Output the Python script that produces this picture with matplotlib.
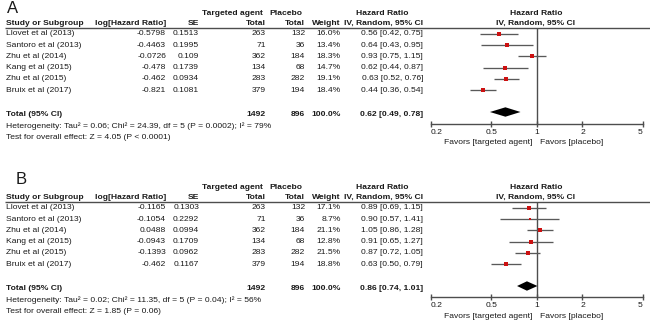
import matplotlib
matplotlib.use("Agg")
import matplotlib.pyplot as plt
from matplotlib.ticker import NullLocator, FixedLocator, FixedFormatter

plt.rcParams['font.family'] = ['Liberation Sans', 'DejaVu Sans']

# ---------------- data ----------------
studies = ["Llovet et al (2013)", "Santoro et al (2013)", "Zhu et al (2014)",
           "Kang et al (2015)", "Zhu et al (2015)", "Bruix et al (2017)"]
n_targeted = [263, 71, 362, 134, 283, 379]
n_placebo = [132, 36, 184, 68, 282, 194]
total_targeted = 1492
total_placebo = 896

# Panel A
a_loghr = ["-0.5798", "-0.4463", "-0.0726", "-0.478", "-0.462", "-0.821"]
a_se = ["0.1513", "0.1995", "0.109", "0.1739", "0.0934", "0.1081"]
a_weight = [16.0, 13.4, 18.3, 14.7, 19.1, 18.4]
a_hr = [0.56, 0.64, 0.93, 0.62, 0.63, 0.44]
a_lo = [0.42, 0.43, 0.75, 0.44, 0.52, 0.36]
a_hi = [0.75, 0.95, 1.15, 0.87, 0.76, 0.54]
a_total = (0.62, 0.49, 0.78)
a_het = "Heterogeneity: Tau² = 0.06; Chi² = 24.39, df = 5 (P = 0.0002); I² = 79%"
a_test = "Test for overall effect: Z = 4.05 (P < 0.0001)"

# Panel B
b_loghr = ["-0.1165", "-0.1054", "0.0488", "-0.0943", "-0.1393", "-0.462"]
b_se = ["0.1303", "0.2292", "0.0994", "0.1709", "0.0962", "0.1167"]
b_weight = [17.1, 8.7, 21.1, 12.8, 21.5, 18.8]
b_hr = [0.89, 0.90, 1.05, 0.91, 0.87, 0.63]
b_lo = [0.69, 0.57, 0.86, 0.65, 0.72, 0.50]
b_hi = [1.15, 1.41, 1.28, 1.27, 1.05, 0.79]
b_total = (0.86, 0.74, 1.01)
b_het = "Heterogeneity: Tau² = 0.02; Chi² = 11.35, df = 5 (P = 0.04); I² = 56%"
b_test = "Test for overall effect: Z = 1.85 (P = 0.06)"

tick_vals = [0.2, 0.5, 1, 2, 5]
tick_labels = ["0.2", "0.5", "1", "2", "5"]

# ---------------- layout ----------------
W, H = 650, 321
fig = plt.figure(figsize=(W / 100, H / 100), dpi=100)
bg = fig.add_axes([0, 0, 1, 1])
bg.set_xlim(0, W)
bg.set_ylim(H, 0)
bg.axis("off")

FS = 6.1
TXT = "#1a1a1a"
LINE = "#4d4d4d"
CI = "#595959"
RED = "#cc1111"

X_STUDY = 6.5
X_LOG = 166
X_SE = 199
X_NT = 266
X_NP = 305
X_W = 340.5
X_HR = 423
F_LEFT, F_RIGHT = 431, 642.7
ROW_STEP = 11.25


def txt(x, y, s, ha="left", bold=False, size=FS):
    bg.text(x, y, s, ha=ha, va="center", fontsize=size, color=TXT,
            fontweight="bold" if bold else "normal")


def panel(letter, letter_xy, off, loghr, se, weight, hr, lo, hi, total, het, test, axis_y):
    txt(letter_xy[0], letter_xy[1], letter, size=12)
    # headers
    y1, y2 = 13.3 + off, 23.8 + off
    txt(232.5, y1, "Targeted agent", ha="center", bold=True)
    txt(285.5, y1, "Placebo", ha="center", bold=True)
    txt(382, y1, "Hazard Ratio", ha="center", bold=True)
    txt(536, y1, "Hazard Ratio", ha="center", bold=True)
    txt(X_STUDY, y2, "Study or Subgroup", bold=True)
    txt(X_LOG, y2, "log[Hazard Ratio]", ha="right", bold=True)
    txt(X_SE, y2, "SE", ha="right", bold=True)
    txt(X_NT, y2, "Total", ha="right", bold=True)
    txt(X_NP, y2, "Total", ha="right", bold=True)
    txt(X_W, y2, "Weight", ha="right", bold=True)
    txt(X_HR, y2, "IV, Random, 95% CI", ha="right", bold=True)
    txt(536, y2, "IV, Random, 95% CI", ha="center", bold=True)
    line_y = 27.6 + off
    bg.plot([5, W], [line_y, line_y], color=LINE, lw=1.0, solid_capstyle="butt")

    rows = [33.8 + off + i * ROW_STEP for i in range(len(studies))]
    for i, y in enumerate(rows):
        txt(X_STUDY, y, studies[i])
        txt(X_LOG, y, loghr[i], ha="right")
        txt(X_SE, y, se[i], ha="right")
        txt(X_NT, y, str(n_targeted[i]), ha="right")
        txt(X_NP, y, str(n_placebo[i]), ha="right")
        txt(X_W, y, f"{weight[i]:.1f}%", ha="right")
        txt(X_HR, y, f"{hr[i]:.2f} [{lo[i]:.2f}, {hi[i]:.2f}]", ha="right")

    ty = 112.0 + off
    txt(X_STUDY, ty + 2, "Total (95% CI)", bold=True)
    txt(X_NT, ty + 2, str(total_targeted), ha="right", bold=True)
    txt(X_NP, ty + 2, str(total_placebo), ha="right", bold=True)
    txt(X_W, ty + 2, "100.0%", ha="right", bold=True)
    txt(X_HR, ty + 2, f"{total[0]:.2f} [{total[1]:.2f}, {total[2]:.2f}]", ha="right", bold=True)
    txt(X_STUDY, 126.3 + off, het)
    txt(X_STUDY, 137.2 + off, test)

    # forest axes (pixel y coordinates, log x)
    top, bot = line_y, axis_y
    ax = fig.add_axes([F_LEFT / W, 1 - bot / H, (F_RIGHT - F_LEFT) / W, (bot - top) / H])
    ax.set_xscale("log")
    ax.set_xlim(0.2, 5)
    ax.set_ylim(bot, top)
    ax.patch.set_alpha(0)
    for s in ("top", "left", "right"):
        ax.spines[s].set_visible(False)
    ax.spines["bottom"].set_color(LINE)
    ax.spines["bottom"].set_linewidth(1.0)
    ax.yaxis.set_major_locator(NullLocator())
    ax.xaxis.set_minor_locator(NullLocator())
    ax.xaxis.set_major_locator(FixedLocator(tick_vals))
    ax.xaxis.set_major_formatter(FixedFormatter(tick_labels))
    ax.tick_params(axis="x", direction="inout", length=5, width=1.0, color=LINE,
                   labelsize=FS, labelcolor=TXT, pad=1.2)
    labs = ax.get_xticklabels()
    labs[0].set_horizontalalignment("left")
    labs[-1].set_horizontalalignment("right")
    ax.axvline(1, color=LINE, lw=1.0)
    for i, y in enumerate(rows):
        ax.plot([lo[i], hi[i]], [y, y], color=CI, lw=0.95, solid_capstyle="butt")
        side_px = 0.18 * weight[i] + 0.8
        m, = ax.plot([hr[i]], [y], marker="s", linestyle="none", color=RED,
                     markersize=side_px * 0.72, markeredgewidth=0)
        m.set_snap(False)
    est, l, h = total
    ax.fill([l, est, h, est], [ty, ty - 4.7, ty, ty + 4.7], color="black", lw=0)

    fy = 142.6 + off
    txt(532.5, fy, "Favors [targeted agent]", ha="right")
    txt(540.5, fy, "Favors [placebo]", ha="left")


panel("A", (7, 8.3), 0, a_loghr, a_se, a_weight, a_hr, a_lo, a_hi, a_total, a_het, a_test, 124)
panel("B", (16, 179.5), 174, b_loghr, b_se, b_weight, b_hr, b_lo, b_hi, b_total, b_het, b_test, 297)

fig.savefig("out.png", dpi=100)
